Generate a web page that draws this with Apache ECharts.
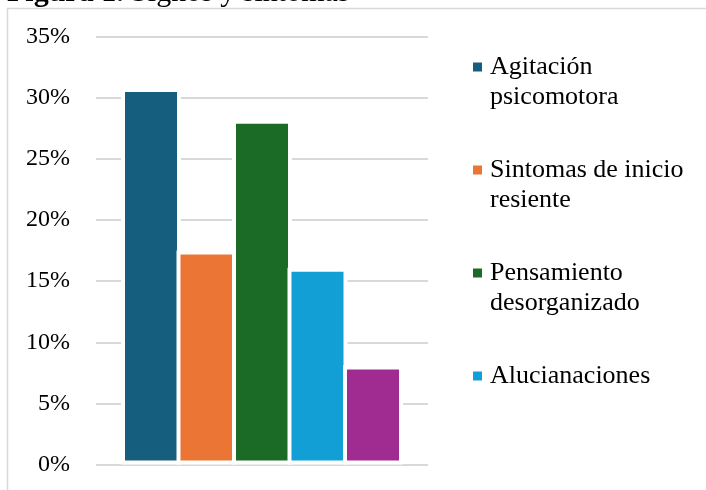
<!DOCTYPE html>
<html>
<head>
<meta charset="utf-8">
<script src="https://cdn.jsdelivr.net/npm/echarts@6/dist/echarts.min.js"></script>
<style>
html,body{margin:0;padding:0;background:#fff;}
#c{width:706px;height:490px;}
</style>
</head>
<body>
<div id="c"></div>
<script>
const categories = [''];
const seriesNames = ['Agitación psicomotora', 'Sintomas de inicio resiente', 'Pensamiento desorganizado', 'Alucianaciones', 'Otros'];
const legendLabels = [' \nAgitación\npsicomotora', ' \nSintomas de inicio\nresiente', ' \nPensamiento\ndesorganizado', ' \nAlucianaciones\n '];
const values = [30.8, 17.5, 28.2, 16.1, 8.1];
const colors = ['#165e7e', '#eb7535', '#1b6a25', '#119fd6', '#a02c91'];
const yTicks = [0, 5, 10, 15, 20, 25, 30, 35];

const FONT = '"Liberation Serif", "Times New Roman", serif';
const chart = echarts.init(document.getElementById('c'), null, {renderer: 'canvas'});

const series = seriesNames.map((n, i) => ({
  name: n,
  type: 'bar',
  data: [values[i]],
  barWidth: 60,
  barGap: '-7.5%',
  clip: false,
  itemStyle: {color: colors[i], borderColor: '#ffffff', borderWidth: 4},
  emphasis: {disabled: true}
}));

chart.setOption({
  animation: false,
  grid: {left: 96, right: 278, top: 36.7, bottom: 25.5, containLabel: false},
  xAxis: {
    type: 'category', data: categories,
    axisLine: {show: false}, axisTick: {show: false}, axisLabel: {show: false}, splitLine: {show: false}
  },
  yAxis: {
    type: 'value', min: yTicks[0], max: yTicks[yTicks.length - 1], interval: 5,
    axisLine: {show: false}, axisTick: {show: false},
    axisLabel: {formatter: '{value}%', color: '#000', fontSize: 24, fontFamily: FONT, margin: 26},
    splitLine: {lineStyle: {color: '#d9d9d9', width: 2}}
  },
  legend: {
    orient: 'vertical', left: 473, top: 22, itemGap: 13, padding: 0,
    itemWidth: 9, itemHeight: 9, icon: 'rect',
    itemStyle: {borderWidth: 0},
    data: seriesNames.slice(0, 4),
    formatter: function (name) { return legendLabels[seriesNames.indexOf(name)]; },
    textStyle: {color: '#000', fontSize: 26, lineHeight: 30, fontFamily: FONT, padding: [0, 0, 0, 3]},
    selectedMode: false
  },
  graphic: [
    {type: 'rect', z: 0, silent: true, shape: {x: 7.5, y: 8.5, width: 900, height: 700},
     style: {fill: null, stroke: '#d9d9d9', lineWidth: 1.5}},
    {type: 'text', z: 10, left: 7, top: -22, silent: true,
     style: {text: '{b|Figura 1. }{n|Signos y síntomas}', rich: {
       b: {fontSize: 30, fontWeight: 'bold', fontFamily: FONT, fill: '#000', lineHeight: 34},
       n: {fontSize: 30, fontFamily: FONT, fill: '#000', lineHeight: 34}}}}
  ],
  series: series
});
</script>
</body>
</html>
